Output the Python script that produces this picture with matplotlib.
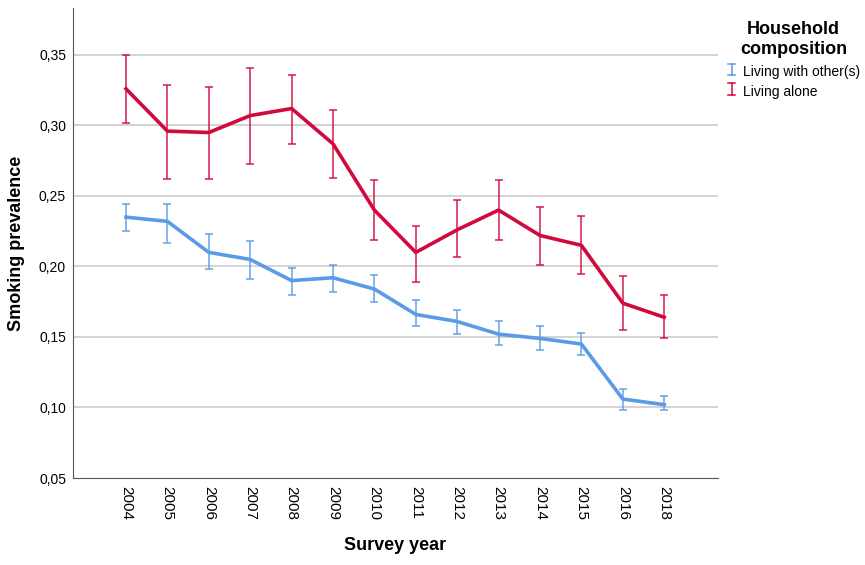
import matplotlib.pyplot as plt
from matplotlib.ticker import FuncFormatter
from matplotlib.legend_handler import HandlerBase
from matplotlib.lines import Line2D

years = ['2004', '2005', '2006', '2007', '2008', '2009', '2010',
         '2011', '2012', '2013', '2014', '2015', '2016', '2018']

alone_mean = [0.326, 0.296, 0.295, 0.307, 0.312, 0.287, 0.240,
              0.210, 0.226, 0.240, 0.222, 0.215, 0.174, 0.164]
alone_low = [0.302, 0.262, 0.262, 0.273, 0.287, 0.263, 0.219,
             0.189, 0.207, 0.219, 0.201, 0.195, 0.155, 0.149]
alone_high = [0.350, 0.329, 0.327, 0.341, 0.336, 0.311, 0.261,
              0.229, 0.247, 0.261, 0.242, 0.236, 0.193, 0.180]

others_mean = [0.235, 0.232, 0.210, 0.205, 0.190, 0.192, 0.184,
               0.166, 0.161, 0.152, 0.149, 0.145, 0.106, 0.102]
others_low = [0.225, 0.217, 0.198, 0.191, 0.180, 0.182, 0.175,
              0.158, 0.152, 0.144, 0.141, 0.137, 0.098, 0.098]
others_high = [0.244, 0.244, 0.223, 0.218, 0.199, 0.201, 0.194,
               0.176, 0.169, 0.161, 0.158, 0.153, 0.113, 0.108]

BLUE = '#5b9be6'
RED = '#d2093c'

plt.rcParams['font.family'] = ['Liberation Sans', 'DejaVu Sans']


class HandlerIBar(HandlerBase):
    # draws a small capped error bar as legend key
    def create_artists(self, legend, orig, xd, yd, w, h, fontsize, trans):
        c = orig.get_color()
        cx = xd + w / 2
        y0, y1 = yd, yd + h
        cw = 2.5
        lines = [Line2D([cx, cx], [y0, y1]),
                 Line2D([cx - cw, cx + cw], [y0, y0]),
                 Line2D([cx - cw, cx + cw], [y1, y1])]
        for ln in lines:
            ln.set_color(c)
            ln.set_linewidth(1.1)
            ln.set_transform(trans)
        return lines


def draw(ax, mean, low, high, color, label):
    x = range(len(years))
    err = [[m - l for m, l in zip(mean, low)], [h - m for m, h in zip(mean, high)]]
    ax.errorbar(x, mean, yerr=err, fmt='none', ecolor=color, elinewidth=1.2,
                capsize=3, capthick=1.2, alpha=0.85, zorder=3)
    ax.plot(x, mean, color=color, lw=2.6, zorder=4)
    return Line2D([], [], color=color, label=label)


fig = plt.figure(figsize=(8.65, 5.65), dpi=100)
ax = fig.add_axes([73 / 865, 87 / 565, 645 / 865, 470 / 565])

h1 = draw(ax, others_mean, others_low, others_high, BLUE, 'Living with other(s)')
h2 = draw(ax, alone_mean, alone_low, alone_high, RED, 'Living alone')

ax.set_xlim(-1.28, len(years) - 1 + 1.30)
ax.set_ylim(0.05, 0.3833)
ax.set_yticks([0.05, 0.10, 0.15, 0.20, 0.25, 0.30, 0.35])
ax.yaxis.set_major_formatter(FuncFormatter(lambda v, p: f'{v:.2f}'.replace('.', ',')))
ax.set_xticks(range(len(years)))
ax.set_xticklabels(years, rotation=-90, fontsize=11)
ax.tick_params(axis='y', labelsize=10, length=0, pad=5)
ax.tick_params(axis='x', length=0, pad=6)

for v in [0.10, 0.15, 0.20, 0.25, 0.30, 0.35]:
    ax.axhline(v, color='#c8c8c8', lw=1.1, zorder=1)

for s in ['top', 'right']:
    ax.spines[s].set_visible(False)
ax.spines['left'].set_color('#555555')
ax.spines['bottom'].set_color('#555555')

ax.set_ylabel('Smoking prevalence', fontsize=13, fontweight='bold', labelpad=10)
ax.set_xlabel('Survey year', fontsize=13, fontweight='bold', labelpad=12)

leg = fig.legend(handles=[h1, h2], loc='upper left', bbox_to_anchor=(715 / 865, 1 - 9 / 565),
                 title='Household\ncomposition', frameon=False, fontsize=10,
                 title_fontproperties={'weight': 'bold', 'size': 13},
                 handler_map={Line2D: HandlerIBar()},
                 handlelength=0.6, handleheight=0.9, handletextpad=0.5, labelspacing=0.4)
leg.get_title().set_multialignment('center')
leg._legend_box.align = 'center'
leg._legend_box.sep = 5

fig.savefig('out.png', dpi=100)
